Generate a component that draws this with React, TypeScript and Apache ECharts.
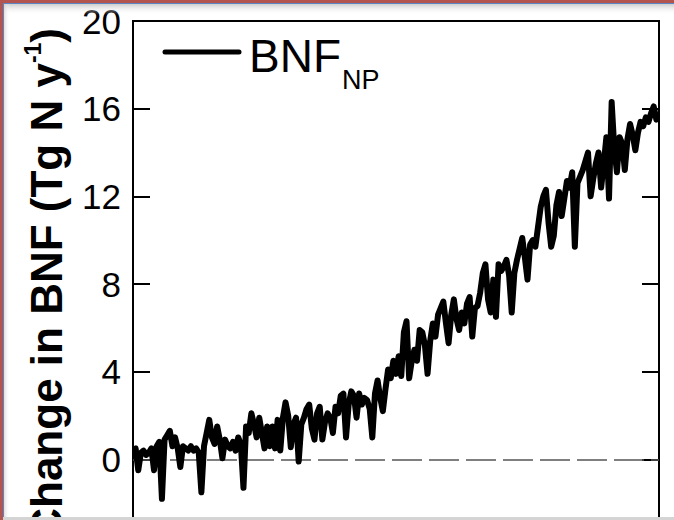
import React, { useEffect, useRef } from "react";
import * as echarts from "echarts";

// Annual change in biological nitrogen fixation (Tg N per year), 1901–2099
const firstYear = 1901;
const bnfChange = [
  0.5, -0.5, 0.3, 0.4, 0.2, 0.3, 0.5, -0.5, 0.6, 0.8,
  -1.8, 0.9, 1.1, 1.3, 0.6, 1.0, 0.5, -0.35, 0.6, 0.5,
  0.4, 0.6, 0.4, 0.5, 0.3, -1.5, 0.6, 1.2, 1.8, 1.0,
  0.7, 1.5, 0.9, 0.05, 0.9, 0.6, 0.5, 0.8, 0.4, 1.0,
  0.7, -1.3, 1.5, 1.2, 2.1, 1.6, 1.0, 1.9, 1.2, 0.5,
  1.5, 0.6, 1.5, 0.5, 1.8, 0.4, 1.9, 2.6, 2.0, 0.55,
  1.6, 1.9, -0.1, 1.6, 1.9, 2.3, 2.5, 1.4, 0.9, 2.1,
  2.4, 0.9, 1.7, 2.1, 1.9, 1.2, 2.4, 2.1, 2.9, 3.0,
  1.0, 2.5, 3.1, 2.9, 1.9, 3.0, 2.5, 2.8, 2.7, 2.3,
  1.0, 3.0, 3.6, 2.8, 2.2, 3.2, 4.1, 3.7, 4.5, 3.9,
  4.7, 3.8, 5.8, 6.3, 3.7, 4.5, 5.0, 4.5, 5.9, 5.8,
  5.2, 3.9, 5.4, 6.2, 5.6, 6.6, 6.9, 7.2, 6.2, 5.3,
  6.6, 7.3, 6.4, 5.9, 6.7, 6.2, 7.1, 7.4, 5.6, 6.9,
  7.0, 7.6, 8.5, 8.9, 7.3, 6.7, 8.2, 6.5, 8.9, 8.6,
  8.8, 9.1, 8.4, 6.7, 8.5, 9.1, 9.6, 10.1, 9.2, 8.2,
  9.8, 10.0, 9.7, 10.6, 11.5, 12.0, 12.3, 10.8, 9.7, 10.2,
  11.6, 12.2, 11.1, 11.9, 12.7, 12.4, 13.1, 9.7, 12.6, 12.9,
  13.2, 13.6, 14.0, 12.0, 12.8, 13.5, 14.0, 12.4, 13.5, 14.7,
  11.9, 16.3, 14.2, 13.1, 14.7, 14.4, 13.2, 14.6, 15.3, 14.8,
  14.1, 14.9, 15.4, 15.2, 15.6, 15.4, 15.8, 16.1, 15.5,
];

const yearRange = [1900, 2100];
const yTicks = { min: -4, max: 20, interval: 4 };
const baselineValue = 0;

const FONT = '"Liberation Sans", Arial, Helvetica, sans-serif';
const LEGEND_FONT = `46px ${FONT}`;
const SUB_FONT = `27px ${FONT}`;

function textWidth(text: string, font: string): number {
  const ctx = document.createElement("canvas").getContext("2d");
  if (!ctx) return text.length * 30;
  ctx.font = font;
  return ctx.measureText(text).width;
}

export default function App() {
  const ref = useRef<HTMLDivElement>(null);

  useEffect(() => {
    if (!ref.current) return;
    const chart = echarts.init(ref.current, undefined, { renderer: "svg" });

    const points = bnfChange.map((v, i) => [firstYear + i, v]);

    const legendX = 249;
    const subX = legendX + textWidth("BNF", LEGEND_FONT) + 1;

    const yAxisCommon = {
      type: "value" as const,
      min: yTicks.min,
      max: yTicks.max,
      interval: yTicks.interval,
      splitLine: { show: false },
      axisLine: { show: true, lineStyle: { color: "#000", width: 2 } },
      axisTick: { show: true, inside: true, length: 17, lineStyle: { color: "#000", width: 2 } },
    };

    chart.setOption({
      animation: false,
      backgroundColor: "#fff",
      grid: {
        left: 133,
        right: 15,
        top: 21,
        bottom: 53,
        containLabel: false,
        outerBoundsMode: "none",
        show: true,
        borderColor: "#000",
        borderWidth: 2,
        backgroundColor: "transparent",
      },
      xAxis: {
        type: "value",
        min: yearRange[0],
        max: yearRange[1],
        interval: 50,
        splitLine: { show: false },
        axisLine: { show: true, onZero: false, lineStyle: { color: "#000", width: 2 } },
        axisTick: { show: false },
        axisLabel: { show: false },
      },
      yAxis: [
        {
          ...yAxisCommon,
          position: "left",
          axisLabel: {
            show: true,
            showMinLabel: false,
            color: "#000",
            fontFamily: FONT,
            fontSize: 35,
            margin: 12,
          },
        },
        {
          ...yAxisCommon,
          position: "right",
          axisLabel: { show: false },
        },
      ],
      series: [
        {
          type: "line",
          name: "BNF_NP",
          data: points,
          showSymbol: false,
          symbol: "none",
          z: 3,
          lineStyle: { color: "#000", width: 6, cap: "round", join: "round" },
          markLine: {
            silent: true,
            symbol: "none",
            label: { show: false },
            z: 1,
            lineStyle: { color: "#555", width: 1.6, type: [30, 7] },
            data: [{ yAxis: baselineValue }],
          },
        },
      ],
      graphic: [
        // window frame
        {
          type: "rect",
          z: 100,
          shape: { x: 0, y: 3, width: 674, height: 12 },
          style: {
            fill: new echarts.graphic.LinearGradient(0, 0, 0, 1, [
              { offset: 0, color: "rgba(190,190,190,0.9)" },
              { offset: 1, color: "rgba(255,255,255,0)" },
            ]),
          },
        },
        {
          type: "rect",
          z: 100,
          shape: { x: 3, y: 3, width: 7, height: 517 },
          style: {
            fill: new echarts.graphic.LinearGradient(0, 0, 1, 0, [
              { offset: 0, color: "rgba(200,200,200,0.8)" },
              { offset: 1, color: "rgba(255,255,255,0)" },
            ]),
          },
        },
        { type: "rect", z: 101, shape: { x: 0, y: 0, width: 674, height: 3 }, style: { fill: "#b4544e" } },
        { type: "rect", z: 101, shape: { x: 0, y: 0, width: 3, height: 520 }, style: { fill: "#b4544e" } },
        { type: "rect", z: 101, shape: { x: 3, y: 3, width: 671, height: 1 }, style: { fill: "#5b86c4" } },
        { type: "rect", z: 101, shape: { x: 3, y: 3, width: 1, height: 517 }, style: { fill: "#5b86c4" } },
        { type: "rect", z: 101, shape: { x: 3, y: 517, width: 671, height: 3 }, style: { fill: "#d4d4d4" } },
        // legend
        {
          type: "line",
          z: 50,
          shape: { x1: 165, y1: 52, x2: 239, y2: 52 },
          style: { stroke: "#000", lineWidth: 5, lineCap: "round" },
        },
        {
          type: "text",
          z: 50,
          x: legendX,
          y: 56,
          style: {
            text: "BNF",
            fill: "#000",
            font: LEGEND_FONT,
            textAlign: "left",
            textVerticalAlign: "middle",
          },
        },
        {
          type: "text",
          z: 50,
          x: subX,
          y: 80,
          style: {
            text: "NP",
            fill: "#000",
            font: SUB_FONT,
            textAlign: "left",
            textVerticalAlign: "middle",
          },
        },
        // y-axis title
        {
          type: "text",
          z: 50,
          x: 46,
          y: 28,
          rotation: Math.PI / 2,
          style: {
            text: "{m|Change in BNF (Tg N y}{s|-1}{m|)}",
            textAlign: "right",
            textVerticalAlign: "middle",
            rich: {
              m: { fontSize: 44, fontWeight: "bold", fontFamily: FONT, fill: "#000", lineHeight: 50 },
              s: {
                fontSize: 23,
                fontWeight: "bold",
                fontFamily: FONT,
                fill: "#000",
                verticalAlign: "top",
                lineHeight: 40,
              },
            },
          },
        },
      ],
    });

    return () => chart.dispose();
  }, []);

  return (
    <div
      style={{
        position: "absolute",
        left: 0,
        top: 0,
        width: 674,
        height: 520,
        overflow: "hidden",
        background: "#fff",
      }}
    >
      <div ref={ref} style={{ width: 674, height: 600 }} />
    </div>
  );
}
